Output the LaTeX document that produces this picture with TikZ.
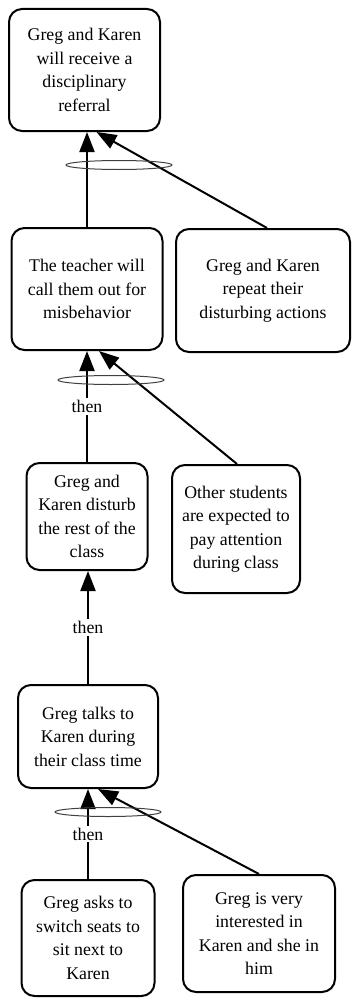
\documentclass[tikz,border=0pt]{standalone}
\usepackage{fontspec}
\setmainfont{Liberation Serif}
\usetikzlibrary{arrows.meta}
\begin{document}
\begin{tikzpicture}[x=1pt,y=-1pt,
 box/.style={draw, line width=2pt, rounded corners=13pt, align=center, inner sep=0pt, font=\fontsize{17.8}{23.5}\selectfont},
 arr/.style={line width=2pt, -{Triangle[length=20pt,width=15pt]}},
 lbl/.style={fill=white, inner sep=2pt, font=\fontsize{17.8}{23.5}\selectfont},
 ring/.style={draw=black!75, line width=1pt}]
\useasboundingbox (0,0) rectangle (351,998);

\node[box, minimum width=151pt, minimum height=122pt] (A) at (84.5,70) {Greg and Karen\\will receive a\\disciplinary\\referral};
\node[box, minimum width=151pt, minimum height=122pt] (B) at (87,289) {The teacher will\\call them out for\\misbehavior};
\node[box, minimum width=174pt, minimum height=123pt] (C) at (263,290.5) {Greg and Karen\\repeat their\\disturbing actions};
\node[box, minimum width=121pt, minimum height=107pt] (D) at (87,516.5) {Greg and\\Karen disturb\\the rest of the\\class};
\node[box, minimum width=128pt, minimum height=128pt] (E) at (236,529) {Other students\\are expected to\\pay attention\\during class};
\node[box, minimum width=140pt, minimum height=103pt] (F) at (88,736.5) {Greg talks to\\Karen during\\their class time};
\node[box, minimum width=133pt, minimum height=116pt] (G) at (88,938) {Greg asks to\\switch seats to\\sit next to\\Karen};
\node[box, minimum width=152pt, minimum height=117pt] (H) at (259,933.5) {Greg is very\\interested in\\Karen and she in\\him};

\draw[arr] (B.north) -- (B.north |- A.south);
\draw[arr] ([xshift=4pt]C.north) -- ([xshift=12pt]A.south);
\draw[ring] (119,165) ellipse [x radius=53pt, y radius=4.5pt];

\draw[arr] (D.north) -- node[lbl]{then} (D.north |- B.south);
\draw[arr] ([xshift=1pt]E.north) -- ([xshift=12pt]B.south);
\draw[ring] (111,380) ellipse [x radius=53pt, y radius=4.5pt];

\draw[arr] (F.north) -- node[lbl]{then} (F.north |- D.south);

\draw[arr] (G.north) -- node[lbl]{then} (G.north |- F.south);
\draw[arr] (H.north) -- ([xshift=10pt]F.south);
\draw[ring] (108,812) ellipse [x radius=53pt, y radius=4.5pt];
\end{tikzpicture}
\end{document}
